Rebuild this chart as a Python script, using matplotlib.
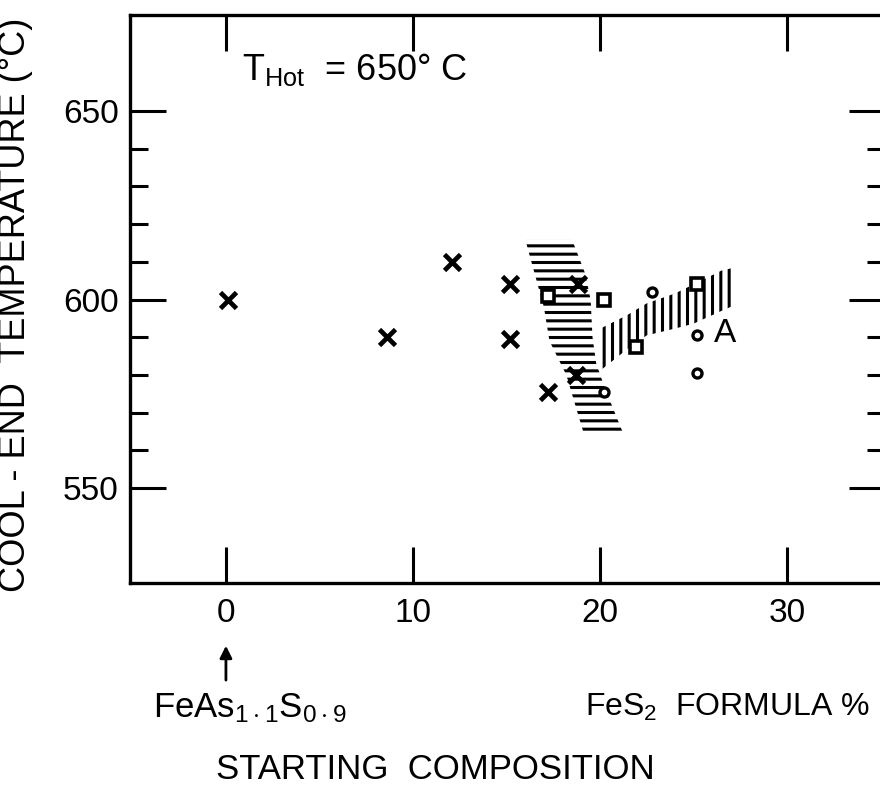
import matplotlib
matplotlib.use("Agg")
import matplotlib.pyplot as plt
from matplotlib.patches import Polygon

plt.rcParams['font.family'] = ['Liberation Sans', 'DejaVu Sans']
plt.rcParams['mathtext.fontset'] = 'custom'
plt.rcParams['mathtext.rm'] = 'Liberation Sans'
plt.rcParams['hatch.linewidth'] = 2.2

# starting composition (FeS2 formula %) and cool-end temperature (deg C)
x_cross = [0.1, 8.6, 12.1, 15.2, 15.2, 17.2, 18.8, 18.7]
t_cross = [600, 590, 610, 604, 589.5, 575.5, 604, 580]

x_square = [17.2, 20.2, 21.9, 25.2]
t_square = [601, 600, 587.5, 604]

x_circle = [22.8, 25.2, 25.2, 20.2]
t_circle = [602, 590.5, 580.5, 575.5]

# hatched bands (outline of the shaded areas)
band_h_x = [16.0, 17.0, 17.3, 18.2, 19.1, 21.2, 20.3, 19.8, 19.6, 19.5, 19.2, 18.5]
band_h_t = [616, 598, 589, 580, 565, 565, 576, 583, 590, 600, 607, 616]

band_v_x = [20.1, 21.5, 22.5, 24.0, 25.0, 26.5, 27.2, 27.2, 26.5, 25.0, 24.0, 22.5, 21.5, 20.1]
band_v_t = [581.5, 587, 590.5, 592.3, 593.6, 597, 598.5, 608.5, 607.7, 604, 601.6, 599, 596, 592.5]

x_ticks = [0, 10, 20, 30]
y_ticks = [550, 600, 650]
y_minor = [560, 570, 580, 590, 610, 620, 630, 640]

fig = plt.figure(figsize=(8.8, 7.91), dpi=100)
ax = fig.add_axes([130 / 880, 1 - 583 / 791, 755 / 880, 568 / 791])

ax.add_patch(Polygon(list(zip(band_h_x, band_h_t)), closed=True, facecolor='none',
                     edgecolor='black', linewidth=0, hatch='--'))
ax.add_patch(Polygon(list(zip(band_v_x, band_v_t)), closed=True, facecolor='none',
                     edgecolor='black', linewidth=0, hatch='||'))

ax.plot(x_cross, t_cross, linestyle='none', marker='x', markersize=11,
        markeredgewidth=3.4, color='black')
ax.plot(x_square, t_square, linestyle='none', marker='s', markersize=9,
        markeredgewidth=2.6, markerfacecolor='white', markeredgecolor='black')
ax.plot(x_circle, t_circle, linestyle='none', marker='o', markersize=6.5,
        markeredgewidth=2.4, markerfacecolor='white', markeredgecolor='black')

ax.text(26.1, 591, 'A', fontsize=24, va='center', ha='left')
ax.text(0.85, 661, r'$\mathregular{T_{Hot}}$  = 650° C', fontsize=26, va='center', ha='left')

ax.set_xlim(-5.13, 35.24)
ax.set_ylim(524.8, 675.5)

ax.set_xticks(x_ticks)
ax.set_xticklabels(['0', '10', '20', '30'])
ax.set_yticks(y_ticks)
ax.set_yticks(y_minor, minor=True)

ax.tick_params(axis='both', which='major', direction='in', length=26, width=2.2,
               labelsize=24, top=True, right=True)
ax.tick_params(axis='y', which='minor', direction='in', length=13, width=2.2, right=True)
ax.tick_params(axis='x', which='major', pad=11)
ax.tick_params(axis='y', which='major', pad=8)
for side in ['left', 'bottom', 'top']:
    ax.spines[side].set_linewidth(2.4)
ax.spines['right'].set_visible(False)

ax.set_ylabel('COOL - END  TEMPERATURE (°C)', fontsize=26)
ax.yaxis.set_label_coords(-0.128, 0.49)
ax.set_xlabel('STARTING  COMPOSITION', fontsize=25)
ax.xaxis.set_label_coords(0.405, -0.30)

# composition labels under the axis
ax.annotate('', xy=(0, 508.9), xytext=(0, 498.3), annotation_clip=False,
            arrowprops=dict(arrowstyle='-|>', color='black', lw=2, mutation_scale=18))
ax.text(1.3, 496, r'$\mathregular{FeAs_{1\cdot1}S_{0\cdot9}}$', fontsize=25,
        ha='center', va='top', clip_on=False)
ax.text(26.8, 496, r'FeS$\mathregular{_2}$  FORMULA %', fontsize=23,
        ha='center', va='top', clip_on=False)

fig.savefig('out.png', dpi=100)
